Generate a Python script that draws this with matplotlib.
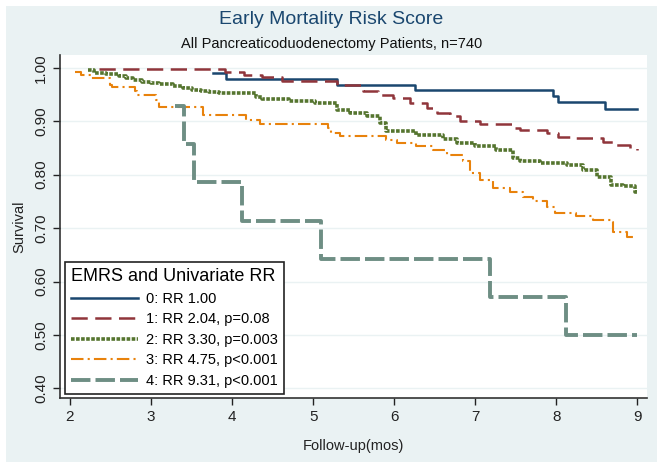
import matplotlib
matplotlib.use("Agg")
import matplotlib.pyplot as plt
from matplotlib.patches import Rectangle

plt.rcParams['font.family'] = ['Liberation Sans', 'DejaVu Sans']

# Kaplan-Meier steps (time in months, survival)
t0 = [3.76, 3.92, 5.29, 6.26, 7.96, 8.02, 8.60, 9.00]
s0 = [0.990, 0.979, 0.968, 0.958, 0.947, 0.936, 0.923, 0.923]

t1 = [2.36, 3.91, 4.15, 4.37, 4.62, 5.30, 5.61, 5.80, 5.98, 6.19, 6.40, 6.53,
      6.69, 6.81, 7.06, 7.45, 7.55, 7.88, 8.02, 8.21, 8.58, 8.70, 8.91, 9.00]
s1 = [0.997, 0.992, 0.987, 0.983, 0.975, 0.968, 0.957, 0.950, 0.943, 0.934, 0.925, 0.916,
      0.909, 0.900, 0.895, 0.887, 0.883, 0.878, 0.871, 0.868, 0.862, 0.856, 0.850, 0.846]

t2 = [2.22, 2.30, 2.45, 2.61, 2.69, 2.78, 2.89, 3.00, 3.10, 3.27, 3.40, 3.51, 3.62,
      3.72, 3.84, 4.30, 4.37, 4.70, 5.02, 5.29, 5.45, 5.66, 5.82, 5.90, 6.27, 6.60,
      6.77, 7.00, 7.26, 7.47, 7.55, 7.80, 8.13, 8.33, 8.50, 8.67, 8.83, 8.97, 9.00]
s2 = [0.996, 0.990, 0.988, 0.985, 0.981, 0.978, 0.974, 0.972, 0.970, 0.966, 0.962, 0.959, 0.957,
      0.955, 0.953, 0.946, 0.941, 0.938, 0.934, 0.921, 0.916, 0.910, 0.896, 0.881, 0.875, 0.867,
      0.859, 0.853, 0.846, 0.831, 0.826, 0.822, 0.818, 0.809, 0.796, 0.781, 0.778, 0.768, 0.768]

t3 = [2.06, 2.14, 2.26, 2.49, 2.52, 2.80, 2.83, 3.06, 3.10, 3.64, 4.17, 4.34, 5.18, 5.22,
      5.33, 5.90, 6.03, 6.27, 6.48, 6.65, 6.85, 6.93, 7.06, 7.22, 7.43, 7.59, 7.71, 7.88,
      7.98, 8.25, 8.45, 8.67, 8.70, 8.87, 9.00]
s3 = [0.992, 0.987, 0.981, 0.968, 0.965, 0.956, 0.949, 0.940, 0.926, 0.912, 0.903, 0.895, 0.887, 0.878,
      0.873, 0.865, 0.859, 0.854, 0.846, 0.837, 0.825, 0.803, 0.790, 0.775, 0.768, 0.759, 0.750, 0.740,
      0.729, 0.723, 0.715, 0.712, 0.693, 0.684, 0.684]

t4 = [3.29, 3.41, 3.53, 4.12, 5.10, 7.18, 8.12, 9.00]
s4 = [0.929, 0.857, 0.786, 0.714, 0.643, 0.571, 0.500, 0.500]

labels = ['0: RR 1.00', '1: RR 2.04, p=0.08', '2: RR 3.30, p=0.003',
          '3: RR 4.75, p<0.001', '4: RR 9.31, p<0.001']
xticks = [2, 3, 4, 5, 6, 7, 8, 9]
yticks = [0.4, 0.5, 0.6, 0.7, 0.8, 0.9, 1.0]

bg = '#EAF2F3'
fig = plt.figure(figsize=(6.63, 4.69), dpi=100, facecolor='white')
fig.patches.append(Rectangle((6 / 663, 7 / 469), 651 / 663, 456 / 469,
                             transform=fig.transFigure, facecolor=bg,
                             edgecolor='none', zorder=-1))
ax = fig.add_axes([60 / 663, 1 - 398 / 469, 587 / 663, 343 / 469])
ax.set_facecolor('white')

ax.step(t0, s0, where='post', color='#1A476F', lw=1.8, label=labels[0])
ax.step(t1, s1, where='post', color='#90353B', lw=1.8, ls=(0, (6.5, 3)), label=labels[1])
ax.step(t2, s2, where='post', color='#55752F', lw=2.6, ls=(0, (1, 0.4)), label=labels[2])
ax.step(t3, s3, where='post', color='#E8820C', lw=1.5, ls=(0, (6, 2, 1, 2)), label=labels[3])
ax.step(t4, s4, where='post', color='#6E8E84', lw=2.8, ls=(0, (5, 1.3)), label=labels[4])

ax.set_xlim(1.877, 9.12)
ax.set_ylim(0.382, 1.024)
ax.set_xticks(xticks)
ax.set_yticks(yticks)
ax.set_yticklabels(['%.2f' % v for v in yticks], rotation=90, va='center')
ax.grid(axis='y', color=bg, lw=1)
ax.set_axisbelow(True)
for s in ['top', 'right']:
    ax.spines[s].set_visible(False)
for s in ['left', 'bottom']:
    ax.spines[s].set_color('#333333')
    ax.spines[s].set_linewidth(1.2)
ax.tick_params(colors='#222222', labelsize=11, length=5, width=1)

ax.set_xlabel('Follow-up(mos)', fontsize=10.5, color='#222222', labelpad=11)
ax.set_ylabel('Survival', fontsize=10.5, color='#222222', labelpad=6)

fig.text(0.5, 1 - 20 / 469, 'Early Mortality Risk Score', ha='center', va='center',
         fontsize=14, color='#1A476F')
fig.text(0.5, 1 - 44 / 469, 'All Pancreaticoduodenectomy Patients, n=740', ha='center',
         va='center', fontsize=10.5, color='#111111')

leg = ax.legend(loc='lower left', bbox_to_anchor=(0.008, 0.012), borderaxespad=0,
                title='EMRS and Univariate RR', title_fontsize=13, fontsize=10.5,
                fancybox=False, edgecolor='#222222', framealpha=1,
                handlelength=4.6, handletextpad=0.6, labelspacing=0.45, borderpad=0.4)
leg.get_frame().set_linewidth(1.2)
leg._legend_box.align = 'left'

fig.savefig('out.png', dpi=100, facecolor='white')
